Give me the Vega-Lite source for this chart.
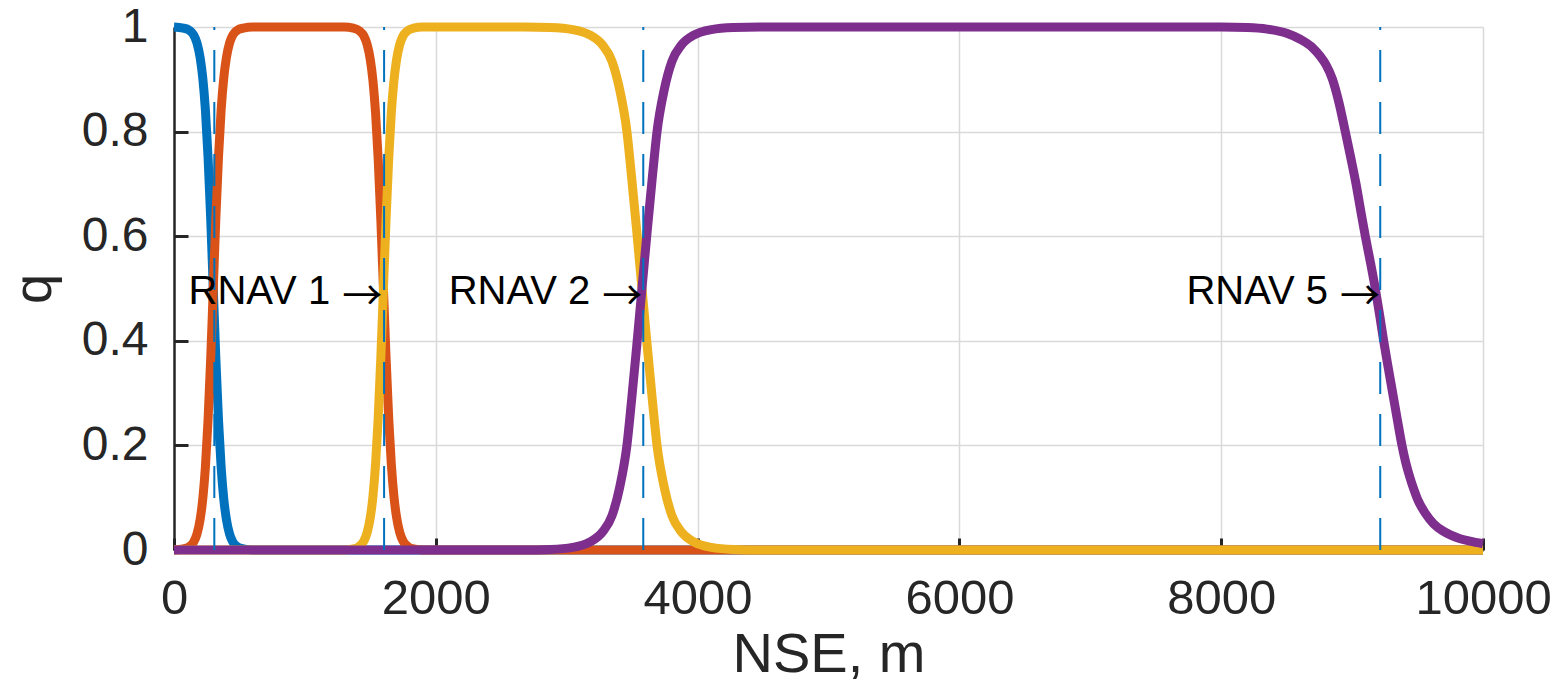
{
  "$schema": "https://vega.github.io/schema/vega-lite/v6.json",
  "width": 1309,
  "height": 523,
  "autosize": {"type": "none"},
  "padding": {"left": 174, "top": 27, "right": 73, "bottom": 133},
  "background": "white",
  "config": {"view": {"stroke": null}, "font": "Liberation Sans"},
  "datasets": {
    "blue": [
      {"x": 0, "q": 1}, {"x": 70, "q": 0.998}, {"x": 115, "q": 0.994}, {"x": 150, "q": 0.985},
      {"x": 175, "q": 0.97}, {"x": 200, "q": 0.941}, {"x": 220, "q": 0.902}, {"x": 240, "q": 0.841},
      {"x": 260, "q": 0.752}, {"x": 280, "q": 0.636}, {"x": 300, "q": 0.5}, {"x": 320, "q": 0.364},
      {"x": 340, "q": 0.248}, {"x": 360, "q": 0.159}, {"x": 380, "q": 0.098}, {"x": 400, "q": 0.059},
      {"x": 425, "q": 0.03}, {"x": 450, "q": 0.015}, {"x": 485, "q": 0.006}, {"x": 530, "q": 0.002},
      {"x": 600, "q": 0}, {"x": 10000, "q": 0}
    ],
    "orange": [
      {"x": 0, "q": 0}, {"x": 70, "q": 0.002}, {"x": 115, "q": 0.006}, {"x": 150, "q": 0.015},
      {"x": 175, "q": 0.03}, {"x": 200, "q": 0.059}, {"x": 220, "q": 0.098}, {"x": 240, "q": 0.159},
      {"x": 260, "q": 0.248}, {"x": 280, "q": 0.364}, {"x": 300, "q": 0.5}, {"x": 320, "q": 0.636},
      {"x": 340, "q": 0.752}, {"x": 360, "q": 0.841}, {"x": 380, "q": 0.902}, {"x": 400, "q": 0.941},
      {"x": 425, "q": 0.97}, {"x": 450, "q": 0.985}, {"x": 485, "q": 0.994}, {"x": 530, "q": 0.998},
      {"x": 600, "q": 1}, {"x": 1300, "q": 1}, {"x": 1370, "q": 0.998}, {"x": 1415, "q": 0.993},
      {"x": 1450, "q": 0.983}, {"x": 1475, "q": 0.967}, {"x": 1500, "q": 0.937}, {"x": 1520, "q": 0.897},
      {"x": 1540, "q": 0.835}, {"x": 1560, "q": 0.747}, {"x": 1580, "q": 0.632}, {"x": 1600, "q": 0.5},
      {"x": 1620, "q": 0.368}, {"x": 1640, "q": 0.253}, {"x": 1660, "q": 0.165}, {"x": 1680, "q": 0.103},
      {"x": 1700, "q": 0.063}, {"x": 1725, "q": 0.033}, {"x": 1750, "q": 0.017}, {"x": 1785, "q": 0.007},
      {"x": 1830, "q": 0.002}, {"x": 1900, "q": 0}, {"x": 10000, "q": 0}
    ],
    "yellow": [
      {"x": 0, "q": 0}, {"x": 1300, "q": 0}, {"x": 1370, "q": 0.002}, {"x": 1415, "q": 0.007},
      {"x": 1450, "q": 0.017}, {"x": 1475, "q": 0.033}, {"x": 1500, "q": 0.063}, {"x": 1520, "q": 0.103},
      {"x": 1540, "q": 0.165}, {"x": 1560, "q": 0.253}, {"x": 1580, "q": 0.368}, {"x": 1600, "q": 0.5},
      {"x": 1620, "q": 0.632}, {"x": 1640, "q": 0.747}, {"x": 1660, "q": 0.835}, {"x": 1680, "q": 0.897},
      {"x": 1700, "q": 0.937}, {"x": 1725, "q": 0.967}, {"x": 1750, "q": 0.983}, {"x": 1785, "q": 0.993},
      {"x": 1830, "q": 0.998}, {"x": 1900, "q": 1}, {"x": 2675, "q": 1}, {"x": 2875, "q": 0.999},
      {"x": 3045, "q": 0.995}, {"x": 3175, "q": 0.985}, {"x": 3275, "q": 0.965}, {"x": 3345, "q": 0.935},
      {"x": 3405, "q": 0.88}, {"x": 3460, "q": 0.8}, {"x": 3495, "q": 0.715}, {"x": 3535, "q": 0.61},
      {"x": 3575, "q": 0.5}, {"x": 3615, "q": 0.39}, {"x": 3655, "q": 0.285}, {"x": 3690, "q": 0.2},
      {"x": 3745, "q": 0.12}, {"x": 3805, "q": 0.065}, {"x": 3875, "q": 0.035}, {"x": 3975, "q": 0.015},
      {"x": 4105, "q": 0.005}, {"x": 4275, "q": 0.001}, {"x": 4475, "q": 0}, {"x": 10000, "q": 0}
    ],
    "purple": [
      {"x": 0, "q": 0}, {"x": 2675, "q": 0}, {"x": 2875, "q": 0.001}, {"x": 3045, "q": 0.005},
      {"x": 3175, "q": 0.015}, {"x": 3275, "q": 0.035}, {"x": 3345, "q": 0.065}, {"x": 3405, "q": 0.12},
      {"x": 3460, "q": 0.2}, {"x": 3495, "q": 0.285}, {"x": 3535, "q": 0.39}, {"x": 3575, "q": 0.5},
      {"x": 3615, "q": 0.61}, {"x": 3655, "q": 0.715}, {"x": 3690, "q": 0.8}, {"x": 3745, "q": 0.88},
      {"x": 3805, "q": 0.935}, {"x": 3875, "q": 0.965}, {"x": 3975, "q": 0.985}, {"x": 4105, "q": 0.995},
      {"x": 4275, "q": 0.999}, {"x": 4475, "q": 1}, {"x": 8000, "q": 1}, {"x": 8200, "q": 0.999},
      {"x": 8350, "q": 0.996}, {"x": 8500, "q": 0.988}, {"x": 8600, "q": 0.977}, {"x": 8700, "q": 0.96},
      {"x": 8757, "q": 0.944}, {"x": 8800, "q": 0.928}, {"x": 8850, "q": 0.9}, {"x": 8900, "q": 0.855},
      {"x": 8948, "q": 0.8}, {"x": 8990, "q": 0.75}, {"x": 9030, "q": 0.7}, {"x": 9065, "q": 0.65},
      {"x": 9101, "q": 0.6}, {"x": 9140, "q": 0.55}, {"x": 9177, "q": 0.5}, {"x": 9210, "q": 0.45},
      {"x": 9241, "q": 0.4}, {"x": 9275, "q": 0.35}, {"x": 9310, "q": 0.3}, {"x": 9345, "q": 0.25},
      {"x": 9381, "q": 0.2}, {"x": 9410, "q": 0.167}, {"x": 9440, "q": 0.14}, {"x": 9470, "q": 0.117},
      {"x": 9500, "q": 0.097}, {"x": 9560, "q": 0.07}, {"x": 9623, "q": 0.05}, {"x": 9690, "q": 0.037},
      {"x": 9750, "q": 0.029}, {"x": 9820, "q": 0.022}, {"x": 9900, "q": 0.017}, {"x": 10000, "q": 0.012}
    ],
    "marks": [
      {"x": 308}, {"x": 1605}, {"x": 3585}, {"x": 9215}
    ],
    "labels": [
      {"x": 1590, "q": 0.47, "label": "RNAV 1"},
      {"x": 3577, "q": 0.47, "label": "RNAV 2"},
      {"x": 9213, "q": 0.47, "label": "RNAV 5"}
    ]
  },
  "layer": [
    {
      "data": {"name": "blue"},
      "mark": {"type": "line", "color": "#0072BD", "strokeWidth": 9, "interpolate": "monotone"},
      "encoding": {
        "x": {
          "field": "x",
          "type": "quantitative",
          "title": "NSE, m",
          "scale": {"domain": [0, 10000], "nice": false, "zero": false},
          "axis": {
            "values": [0, 2000, 4000, 6000, 8000, 10000],
            "format": "d",
            "labelFont": "Liberation Sans",
            "labelFontSize": 49,
            "labelColor": "#262626",
            "labelFlush": false,
            "labelOverlap": false,
            "labelPadding": 36,
            "tickSize": -12,
            "tickWidth": 3,
            "tickColor": "#262626",
            "domainColor": "#262626",
            "domainWidth": 2.5,
            "grid": true,
            "gridColor": "#d9d9d9",
            "gridWidth": 1.5,
            "titleFont": "Liberation Sans",
            "titleFontSize": 56,
            "titleFontWeight": "normal",
            "titleColor": "#262626",
            "titlePadding": 4
          }
        },
        "y": {
          "field": "q",
          "type": "quantitative",
          "title": "q",
          "scale": {"domain": [0, 1], "nice": false},
          "axis": {
            "values": [0, 0.2, 0.4, 0.6, 0.8, 1],
            "format": "~g",
            "labelFont": "Liberation Sans",
            "labelFontSize": 48,
            "labelColor": "#262626",
            "labelFlush": false,
            "labelOverlap": false,
            "labelPadding": 40,
            "tickSize": -14,
            "tickWidth": 3,
            "tickColor": "#262626",
            "domainColor": "#262626",
            "domainWidth": 2.5,
            "grid": true,
            "gridColor": "#d9d9d9",
            "gridWidth": 1.5,
            "titleFont": "Liberation Sans",
            "titleFontSize": 54,
            "titleFontWeight": "normal",
            "titleColor": "#262626",
            "titlePadding": 20
          }
        }
      }
    },
    {
      "data": {"name": "orange"},
      "mark": {"type": "line", "color": "#D95319", "strokeWidth": 9, "interpolate": "monotone"},
      "encoding": {
        "x": {"field": "x", "type": "quantitative", "title": "NSE, m", "scale": {"domain": [0, 10000], "nice": false, "zero": false}},
        "y": {"field": "q", "type": "quantitative", "title": "q", "scale": {"domain": [0, 1], "nice": false}}
      }
    },
    {
      "data": {"name": "yellow"},
      "mark": {"type": "line", "color": "#EDB120", "strokeWidth": 9, "interpolate": "monotone"},
      "encoding": {
        "x": {"field": "x", "type": "quantitative", "title": "NSE, m", "scale": {"domain": [0, 10000], "nice": false, "zero": false}},
        "y": {"field": "q", "type": "quantitative", "title": "q", "scale": {"domain": [0, 1], "nice": false}}
      }
    },
    {
      "data": {"name": "purple"},
      "mark": {"type": "line", "color": "#7E2F8E", "strokeWidth": 9, "interpolate": "monotone"},
      "encoding": {
        "x": {"field": "x", "type": "quantitative", "title": "NSE, m", "scale": {"domain": [0, 10000], "nice": false, "zero": false}},
        "y": {"field": "q", "type": "quantitative", "title": "q", "scale": {"domain": [0, 1], "nice": false}}
      }
    },
    {
      "data": {"name": "marks"},
      "mark": {"type": "rule", "color": "#0072BD", "strokeWidth": 2, "strokeDash": [32, 20], "strokeDashOffset": 29},
      "encoding": {
        "x": {"field": "x", "type": "quantitative", "title": "NSE, m", "scale": {"domain": [0, 10000], "nice": false, "zero": false}}
      }
    },
    {
      "data": {"name": "labels"},
      "mark": {"type": "text", "align": "right", "baseline": "alphabetic", "fontSize": 40, "font": "Liberation Sans", "color": "black", "dx": -52},
      "encoding": {
        "x": {"field": "x", "type": "quantitative", "title": "NSE, m", "scale": {"domain": [0, 10000], "nice": false, "zero": false}},
        "y": {"field": "q", "type": "quantitative", "title": "q", "scale": {"domain": [0, 1], "nice": false}},
        "text": {"field": "label"}
      }
    },
    {
      "data": {"name": "labels"},
      "mark": {"type": "text", "text": "→", "align": "right", "baseline": "alphabetic", "fontSize": 40, "font": "Noto Sans CJK JP", "color": "black", "dy": 6},
      "encoding": {
        "x": {"field": "x", "type": "quantitative", "title": "NSE, m", "scale": {"domain": [0, 10000], "nice": false, "zero": false}},
        "y": {"field": "q", "type": "quantitative", "title": "q", "scale": {"domain": [0, 1], "nice": false}}
      }
    }
  ]
}
